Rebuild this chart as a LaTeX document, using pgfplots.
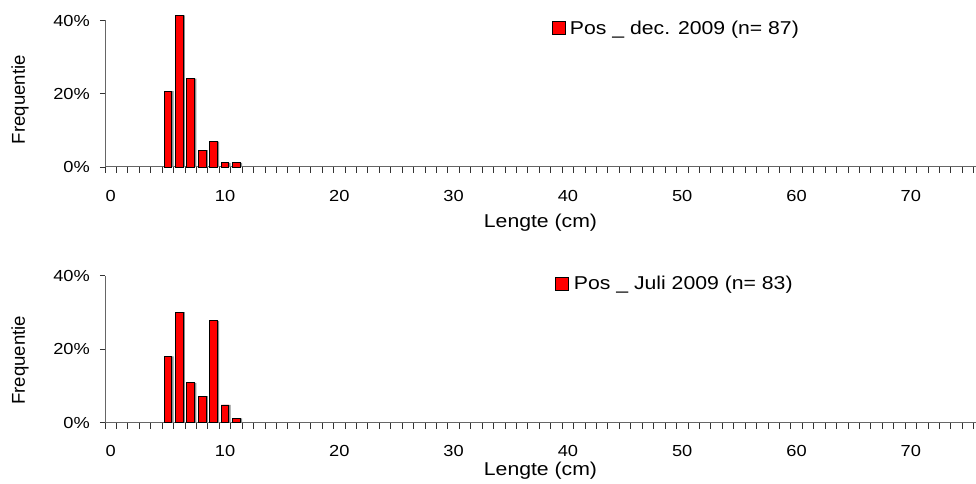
\documentclass[border=0pt]{standalone}
\usepackage{fontspec}
\setmainfont[FakeStretch=1.14]{Liberation Sans}
\newfontfamily\yfont{Liberation Sans}
\usepackage{pgfplots}
\pgfplotsset{compat=1.18}
\pgfplotstableread{
x y
5 20.69
6 41.38
7 24.14
8 4.60
9 6.90
10 1.15
11 1.15
}\dectable
\pgfplotstableread{
x y
5 18.07
6 30.12
7 10.84
8 7.23
9 27.71
10 4.82
11 1.20
}\jultable
\pgfplotsset{
 panel/.style={
  scale only axis, width=871bp, height=146.5bp,
  xmin=-0.5, xmax=75.7, ymin=0, ymax=40,
  clip=false,
  axis x line=bottom, axis y line=left,
  axis line style={-, line width=1bp, black!60},
  tick align=outside,
  major tick length=5bp, minor tick length=6bp,
  every tick/.style={black!80, line width=0.9bp},
  xtick={0,10,...,70},
  minor xtick={-0.5,0.5,...,75.5},
  every major x tick/.style={draw=none},
  ytick={0,20,40},
  yticklabel={\pgfmathprintnumber{\tick}\%},
  /pgf/number format/assume math mode=true,
  tick label style={font=\fontsize{16bp}{19bp}\selectfont},
  xticklabel style={anchor=center, yshift=-24bp},
  yticklabel style={anchor=east, inner sep=0pt, xshift=-10bp},
  xlabel={Lengte (cm)},
  xlabel style={at={(axis description cs:0.5,0)}, anchor=center, yshift=-56bp, font=\fontsize{18.6bp}{22bp}\selectfont},
  ylabel={Frequentie},
  ylabel style={at={(axis description cs:0,0.5)}, anchor=center, yshift=85bp, xshift=-6bp, font=\fontsize{18.6bp}{22bp}\yfont},
  legend style={draw=none, fill=none, inner sep=0pt, anchor=west,
    font=\fontsize{18.6bp}{22bp}\selectfont},
  legend image code/.code={\draw[fill=red, draw=black, line width=0.8bp] (0bp,-6.5bp) rectangle (13bp,6.5bp);},
 }
}
\begin{document}
\begin{tikzpicture}
\useasboundingbox (0,0) rectangle (976bp,484bp);
\begin{axis}[panel, at={(105bp,317bp)}, anchor=south west,
  legend style={at={(axis description cs:0.5132,0.948)}}]
\addplot[ybar, bar width=7.7bp, bar shift=1.8bp, fill=black!45, draw=none, forget plot] table[x=x,y=y] {\dectable};
\addplot[ybar, bar width=7.7bp, bar shift=0pt, fill=red, draw=black, line width=0.8bp] table[x=x,y=y] {\dectable};
\addlegendentry{\kern2bp Pos \_ dec. 2009 (n= 87)}
\end{axis}
\begin{axis}[panel, at={(105bp,61.3bp)}, anchor=south west, height=147bp,
  xlabel style={yshift=8bp},
  xticklabel style={yshift=1bp},
  ylabel style={xshift=-5bp},
  legend style={at={(axis description cs:0.5166,0.946)}}]
\addplot[ybar, bar width=7.7bp, bar shift=1.8bp, fill=black!45, draw=none, forget plot] table[x=x,y=y] {\jultable};
\addplot[ybar, bar width=7.7bp, bar shift=0pt, fill=red, draw=black, line width=0.8bp] table[x=x,y=y] {\jultable};
\addlegendentry{\kern3bp Pos \_ Juli 2009 (n= 83)}
\end{axis}
\end{tikzpicture}
\end{document}
